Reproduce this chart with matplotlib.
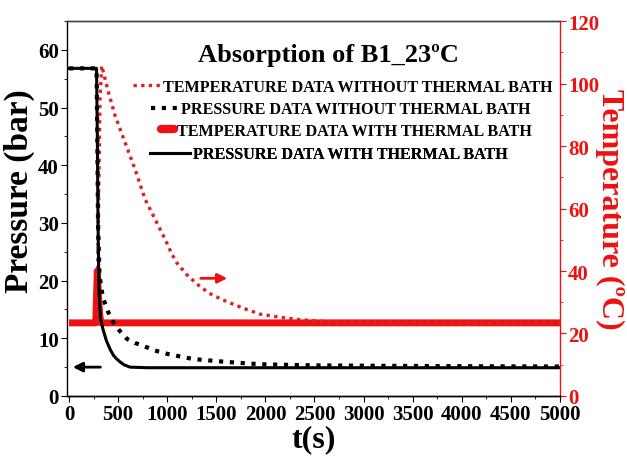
import matplotlib
matplotlib.use("Agg")
import matplotlib.pyplot as plt
from matplotlib.ticker import MultipleLocator
from matplotlib.lines import Line2D

# ---- data ----
t_p_bath = [0, 280, 288, 295, 305, 320, 345, 380, 418, 450, 480, 520, 560, 622, 800, 5000]
p_bath = [56.8, 56.8, 45, 30, 18, 13.5, 11.6, 9.6, 8.1, 7.1, 6.5, 5.9, 5.4, 5.0, 4.9, 4.9]

t_p_nobath = [0, 280, 288, 295, 310, 330, 350, 400, 450, 520, 590, 670, 755, 870, 1000, 1265, 1606, 1945, 2500, 3500, 5000]
p_nobath = [56.8, 56.8, 45, 30, 21, 18.5, 16.8, 14.5, 12.8, 11.2, 9.9, 9.2, 8.7, 7.9, 7.3, 6.4, 5.9, 5.5, 5.3, 5.2, 5.1]

t_T_nobath = [285, 300, 315, 333, 401, 469, 570, 672, 774, 876, 978, 1046, 1100, 1200, 1334,
              1450, 1606, 1800, 1945, 2150, 2357, 2700, 5000]
T_nobath = [23.4, 60, 95, 105.7, 97.2, 89.7, 81.2, 72.6, 63, 56.6, 50.2, 45.5, 42.5, 38.8, 35,
            32.5, 30.2, 27.8, 26.2, 25.2, 24.4, 23.6, 23.4]

t_T_bath = [0, 272, 280, 288, 298, 312, 325, 5000]
T_bath = [23.4, 23.4, 32, 40, 33, 26, 23.4, 23.4]

title = "Absorption of B1_23ºC"
labels = ["TEMPERATURE DATA WITHOUT THERMAL BATH",
          "PRESSURE DATA WITHOUT THERMAL BATH",
          "TEMPERATURE DATA WITH THERMAL BATH",
          "PRESSURE DATA WITH THERMAL BATH"]

SERIF = ["Liberation Serif", "DejaVu Serif"]
plt.rcParams['font.family'] = SERIF
plt.rcParams['font.weight'] = 'bold'
RED = "#ee1111"

fig = plt.figure(figsize=(6.27, 4.6), dpi=100)
ax = fig.add_axes([0.107, 0.137, 0.786, 0.815])
ax2 = ax.twinx()

ax.set_xlim(-20, 5000)
ax.set_ylim(0, 65)
ax2.set_ylim(0, 120)

# series
l_pb, = ax.plot(t_p_bath, p_bath, color="black", lw=2.2, zorder=3)
l_pn, = ax.plot(t_p_nobath, p_nobath, color="black", lw=3, ls=(0, (1, 1.6)), zorder=3)
l_Tb, = ax2.plot(t_T_bath, T_bath, color=RED, lw=5, solid_capstyle="butt", zorder=2)
l_Tn, = ax2.plot(t_T_nobath, T_nobath, color="#dd2222", lw=2.4, ls=(0, (1, 1.3)), zorder=2)
ax.set_zorder(ax2.get_zorder() + 1)
ax.patch.set_visible(False)

# arrows
ax.annotate("", xy=(1640, 20.4), xytext=(1313, 20.4),
            arrowprops=dict(arrowstyle="-|>", color=RED, lw=2, mutation_scale=14))
ax.annotate("", xy=(10, 5.0), xytext=(347, 5.0),
            arrowprops=dict(arrowstyle="-|>", color="black", lw=2, mutation_scale=14))

# title inside
ax.text(0.53, 0.91, title, transform=ax.transAxes, ha="center", va="center",
        fontsize=19, fontweight="bold")

# ragged legend entries
FS = 11.6
entries = [
    (Line2D([], [], color="#dd2222", lw=2.4, ls=(0, (1, 1.3))), labels[0], 0.134, 0.824, 1.7),
    (Line2D([], [], color="black", lw=3, ls=(0, (1, 1.6))), labels[1], 0.170, 0.765, 1.7),
    (Line2D([], [], color=RED, lw=6, solid_capstyle="round"), labels[2], 0.191, 0.707, 0.8),
    (Line2D([], [], color="black", lw=2.2), labels[3], 0.168, 0.645, 2.5),
]
for h, lab, x0, y0, hl in entries:
    lg = ax.legend([h], [lab], loc="center left", bbox_to_anchor=(x0, y0),
                   bbox_transform=ax.transAxes, frameon=False, handlelength=hl,
                   handletextpad=0.15, borderpad=0, borderaxespad=0,
                   prop=dict(family=SERIF, weight="bold", size=FS))
    ax.add_artist(lg)

# ticks
ax.xaxis.set_major_locator(MultipleLocator(500))
ax.xaxis.set_minor_locator(MultipleLocator(250))
ax.yaxis.set_major_locator(MultipleLocator(10))
ax.yaxis.set_minor_locator(MultipleLocator(5))
ax2.yaxis.set_major_locator(MultipleLocator(20))
ax2.yaxis.set_minor_locator(MultipleLocator(10))
ax.tick_params(which="both", direction="out", labelsize=15, pad=2)
ax.tick_params(which="major", length=4)
ax.tick_params(which="minor", length=2.5)
ax2.tick_params(which="both", direction="out", labelsize=15, colors=RED, pad=2)
ax2.tick_params(which="major", length=4)
ax2.tick_params(which="minor", length=2.5)
for lab in ax.get_xticklabels() + ax.get_yticklabels() + ax2.get_yticklabels():
    lab.set_fontweight("bold")

ax2.spines["right"].set_color(RED)
for s in ("left", "right", "top", "bottom"):
    ax.spines[s].set_linewidth(1.0)
    ax2.spines[s].set_linewidth(1.0)
ax.spines["right"].set_visible(False)
ax.spines["top"].set_color("#444444")
ax2.spines["top"].set_color("#444444")
ax2.spines["left"].set_visible(False)

ax.set_xlabel("t(s)", fontsize=23, fontweight="bold", labelpad=0)
ax.set_ylabel("Pressure (bar)", fontsize=24, fontweight="bold")
ax.yaxis.set_label_coords(-0.066, 0.55)
ax2.set_ylabel("Temperature (ºC)", fontsize=23, fontweight="bold", color=RED,
               rotation=270, va="center", ha="center")
ax2.yaxis.set_label_coords(1.10, 0.5)

fig.savefig("out.png", dpi=100)
